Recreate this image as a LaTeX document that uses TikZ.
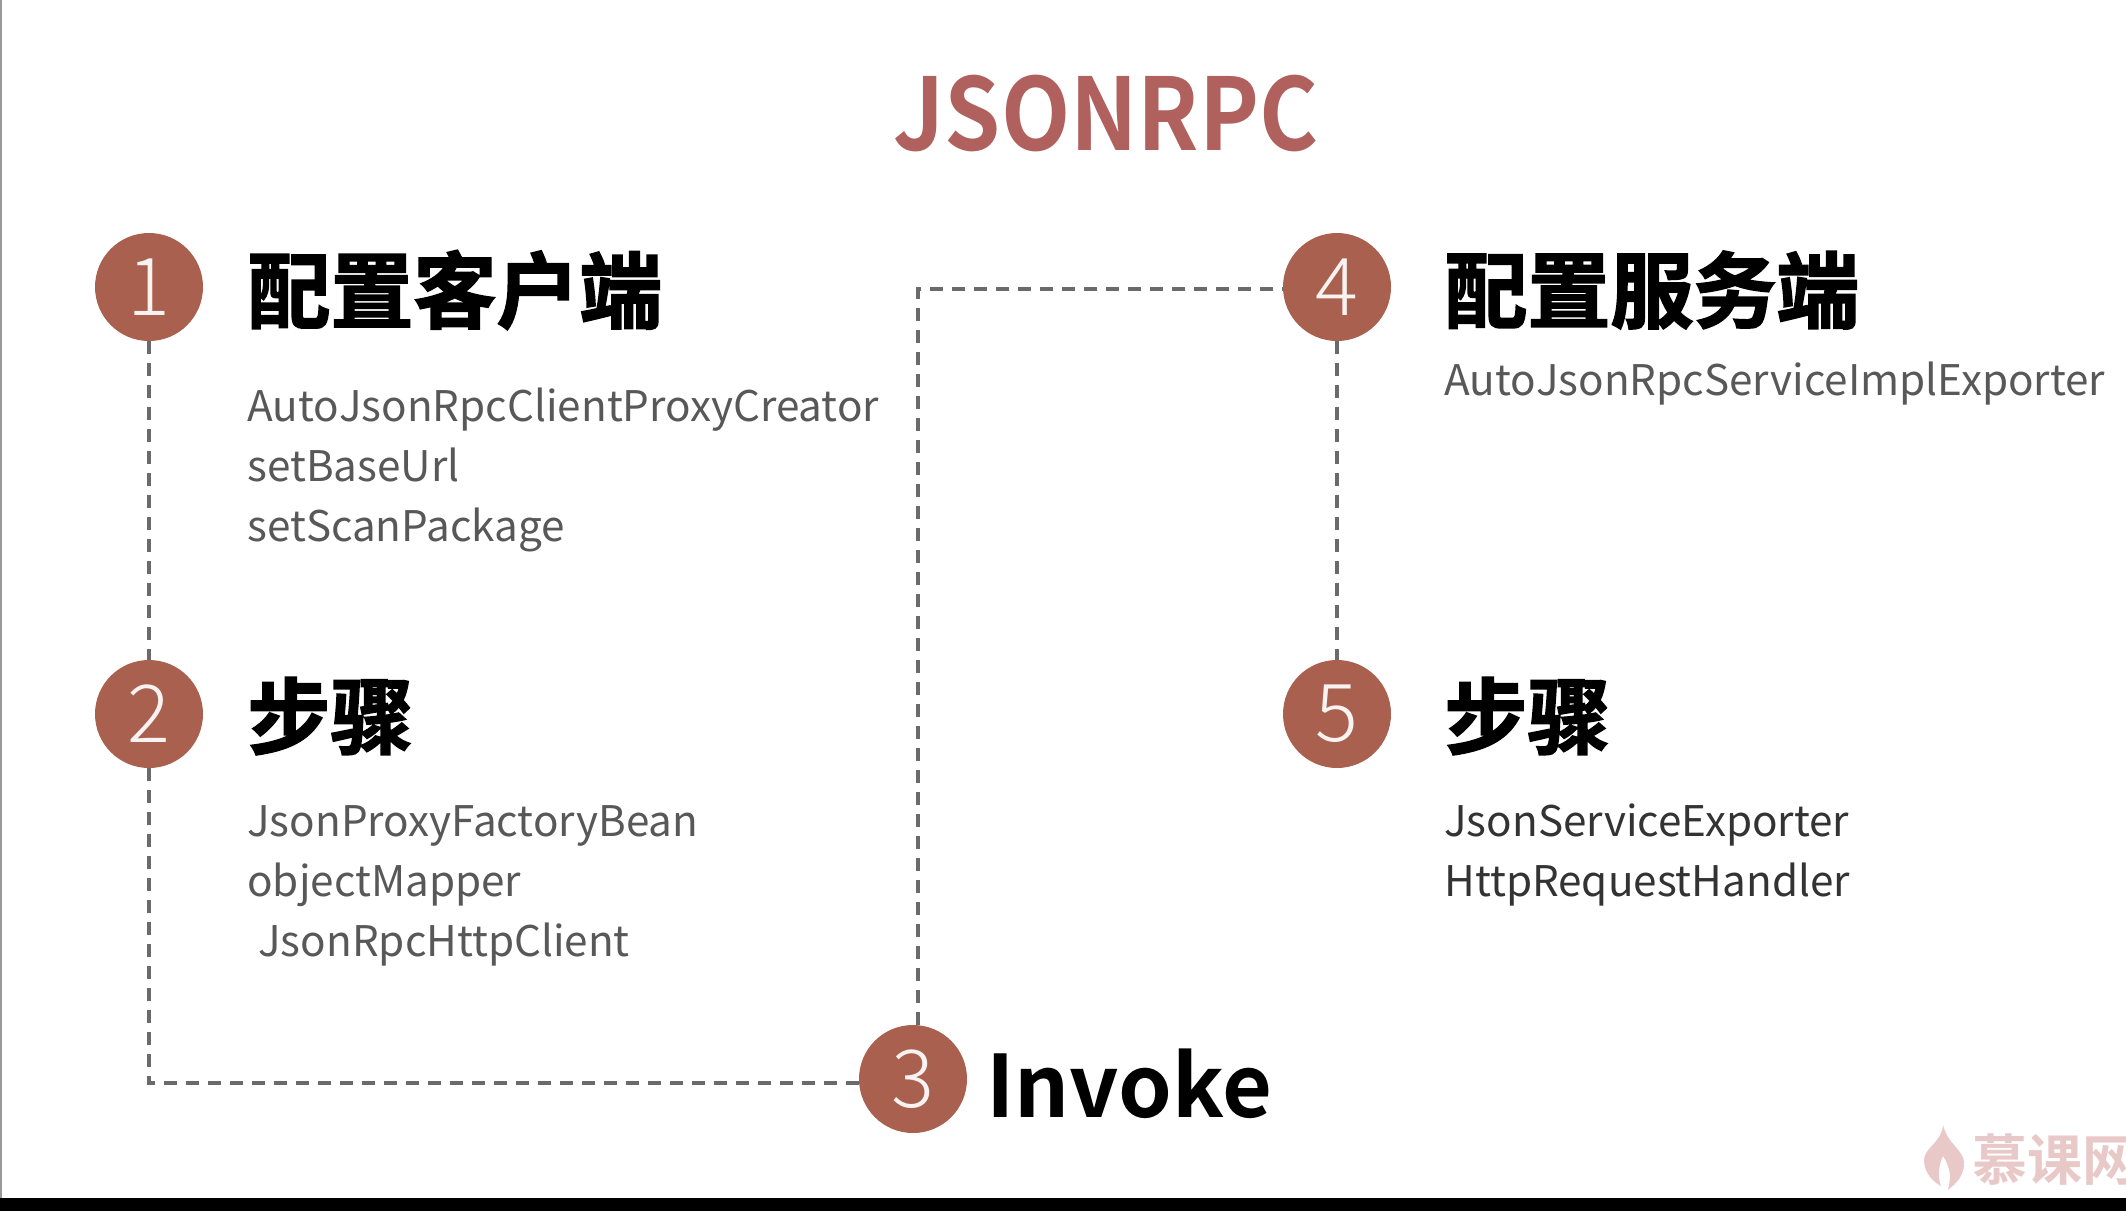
\documentclass[tikz,border=0pt]{standalone}
\usepackage{fontspec}
\setmainfont{Noto Sans CJK SC}
\newfontfamily\cjkbold[FakeBold=2]{Noto Sans CJK SC Bold}
\newfontfamily\boldlatin{Noto Sans CJK SC Bold}
\newfontfamily\titlefont[FakeStretch=0.9]{Noto Sans CJK SC Bold}
\newfontfamily\digitfont{Noto Sans CJK SC Light}
\definecolor{rust}{HTML}{A9604F}
\definecolor{titlered}{HTML}{B0615E}
\definecolor{bodygray}{HTML}{585858}
\definecolor{dashgray}{HTML}{6A6A6A}
\definecolor{markpink}{HTML}{E9C8C8}
\tikzset{
  stepcircle/.style={circle,fill=rust,text=white!92!rust,inner sep=0pt,minimum size=54pt,font=\digitfont\fontsize{40}{40}\selectfont},
  heading/.style={anchor=west,inner sep=0pt,font=\cjkbold\fontsize{41.5}{41.5}\selectfont},
  bodyline/.style={anchor=base west,inner sep=0pt,text=bodygray,font=\fontsize{21.1}{21.1}\selectfont},
  link/.style={draw=dashgray,line width=1.6pt,dash pattern=on 6.5pt off 4.5pt},
  markchar/.style={anchor=west,inner sep=0pt,text=markpink,font=\boldlatin\fontsize{27.5}{27.5}\selectfont}
}
\begin{document}
\begin{tikzpicture}[x=0.5pt,y=-0.5pt]
  \path[use as bounding box,clip] (0,0) rectangle (2126,1211);
  \fill[white] (0,0) rectangle (2126,1211);
  \fill[black] (0,1198) rectangle (2126,1211);
  \fill[gray!80] (0,0) rectangle (2,1198);

  \node[anchor=base,inner sep=0pt,text=titlered,font=\titlefont\fontsize{50}{50}\selectfont] (title) at (1106,150) {JSONRPC};

  \foreach \n/\x/\y in {1/149/287, 2/149/714, 3/913/1079, 4/1337/287, 5/1337/714} {
    \node[stepcircle] (n\n) at (\x,\y) {\n};
  }

  \draw[link] (n1) -- (n2);
  \draw[link] (n2) |- ([yshift=-2pt]n3.west);
  \draw[link] ([xshift=2.5pt]n3.north) |- ([yshift=-1pt]n4.west);
  \draw[link] (n4) -- (n5);

  \node[heading] (client) at (247,290) {配置客户端};
  \node[heading] (stepsa) at (247,716) {步骤};
  \node[heading] (server) at (1444,290) {配置服务端};
  \node[heading] (stepsb) at (1444,716) {步骤};
  \node[anchor=base west,inner sep=0pt,font=\boldlatin\fontsize{43}{43}\selectfont] (invoke) at (986,1117) {Invoke};

  \foreach \name/\x/\y/\txt in {
    ca/247/421/AutoJsonRpcClientProxyCreator,
    cb/247/481/setBaseUrl,
    cc/247/541/setScanPackage,
    pa/247/836/JsonProxyFactoryBean,
    pb/247/896/objectMapper,
    pc/258/956/JsonRpcHttpClient,
    sa/1444/395/AutoJsonRpcServiceImplExporter} {
    \node[bodyline] (\name) at (\x,\y) {\txt};
  }
  \node[bodyline,text=black!80] (ea) at (1444,836) {JsonServiceExporter};
  \node[bodyline,text=black!80] (eb) at (1444,896) {HttpRequestHandler};

  % watermark
  \fill[markpink] (1943,1125) .. controls (1948,1145) and (1964,1150) .. (1964,1163)
    .. controls (1964,1175) and (1957,1183) .. (1948,1190)
    .. controls (1951,1178) and (1951,1168) .. (1943,1156)
    .. controls (1939,1165) and (1937,1175) .. (1941,1186)
    .. controls (1930,1180) and (1924,1170) .. (1924,1160)
    .. controls (1924,1148) and (1942,1142) .. (1943,1125) -- cycle;
  \node[markchar] (mark) at (1972,1160) {慕课网};
\end{tikzpicture}
\end{document}
